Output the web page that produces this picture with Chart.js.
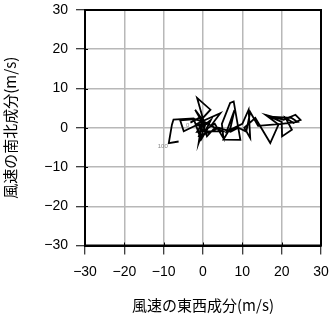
<!DOCTYPE html>
<html><head><meta charset="utf-8">
<script src="https://cdn.jsdelivr.net/npm/chart.js@4"></script>
<style>html,body{margin:0;padding:0;background:#fff}#wrap{width:331px;height:318px}</style>
</head><body><div id="wrap"><canvas id="c" width="331" height="318"></canvas></div>
<script>
const uWind = [-3.2,-1,1,-0.5,2,0.5,-1.5,-0.3,-1.1,0.5,-1.5,1.9,-0.5,-2,0.2,3,1,-0.3,4.4,2,5,0,3,5.2,4.8,6.9,7.8,9.5,5.2,7,8,6,10,11.6,12,10.5,13.3,17.1,19.2,15.9,20.5,23.5,24.8,23,21,22.6,20.1,20,17,22.5,24,20,14,12,11,9,7,4,2,-1,0,-2,-4.9,-5.8,-2,0,-1.5,1,-0.5,-2.4,-7.5,-7.9,-8.7,-6.2];
const vWind = [1.3,2.5,1,0,2,-1,1,1.6,-3.9,0.5,7.6,4.6,2,4.6,1.6,0,-2.2,1.6,3.7,0.5,-0.9,-0.9,1,-2.7,1,6.3,6.7,-3.1,-3,0,4.5,-1,1,4.6,-2.6,0,2.5,-3.9,0.8,3.3,2,3.3,2,1.2,2.5,-0.5,-2.2,1.5,2.8,2.5,1.5,1,0.5,4,-1,0,-1,0,-1,-2,1,0.5,-0.9,1.9,2.2,1.5,-1,-0.5,-3,2.4,2.1,0.8,-3.9,-3.5];
const tickValues = [-30,-20,-10,0,10,20,30];
const xTitle = '風速の東西成分(m/s)';
const yTitle = '風速の南北成分(m/s)';
const pointLabels = [{index:0, text:'0'}, {index:uWind.length-2, text:'100'}];

const points = uWind.map((u,i)=>({x:u,y:vWind[i]}));
const fmt = v => String(v).replace('-', '\u2212');

const framePlugin = {
  id:'frame',
  afterDatasetsDraw(chart){
    const {ctx, chartArea:a, scales} = chart;
    ctx.save();
    ctx.strokeStyle='#000'; ctx.lineWidth=1;
    tickValues.forEach(t=>{
      const x = Math.round(scales.x.getPixelForValue(t))+0.5;
      ctx.beginPath(); ctx.moveTo(x,a.bottom); ctx.lineTo(x,a.bottom-3); ctx.stroke();
      const y = Math.round(scales.y.getPixelForValue(t))+0.5;
      ctx.beginPath(); ctx.moveTo(a.left,y); ctx.lineTo(a.left+3,y); ctx.stroke();
    });
    ctx.lineWidth=2;
    ctx.strokeRect(a.left, a.top, a.right-a.left, a.bottom-a.top);
    ctx.fillStyle='#888';
    ctx.font='6px "Liberation Sans", Arial, sans-serif';
    ctx.textBaseline='middle';
    ctx.textAlign='right';
    pointLabels.forEach(l=>{
      const p = points[l.index];
      ctx.fillText(l.text, scales.x.getPixelForValue(p.x)-1, scales.y.getPixelForValue(p.y)+3);
    });
    ctx.restore();
  }
};

const tickFont = {family:'"Liberation Sans", Arial, sans-serif', size:14};
const titleFont = {family:'"Noto Sans CJK JP", sans-serif', size:15};

new Chart(document.getElementById('c'), {
  type:'scatter',
  data:{datasets:[{data:points, showLine:true, borderColor:'#000', borderWidth:1.8, pointRadius:0, fill:false, tension:0}]},
  options:{
    responsive:false, animation:false,
    layout:{padding:{top:10,right:10,left:0,bottom:0}},
    plugins:{legend:{display:false}, tooltip:{enabled:false}},
    scales:{
      x:{type:'linear', min:-30, max:30,
        afterBuildTicks(s){ s.ticks = tickValues.map(v=>({value:v})); },
        afterFit(s){ s.height = 72.5; s.paddingLeft = 0; s.paddingRight = 0; },
        border:{display:true, color:'#000', width:2},
        grid:{color:'#b8b8b8', lineWidth:1.5, tickColor:'#000', tickLength:9, tickWidth:1},
        ticks:{color:'#000', font:tickFont, padding:9, maxRotation:0, callback:v=>fmt(v)},
        title:{display:true, text:xTitle, color:'#000', font:titleFont, padding:{top:0,bottom:4}}
      },
      y:{type:'linear', min:-30, max:30,
        afterBuildTicks(s){ s.ticks = tickValues.map(v=>({value:v})); },
        afterFit(s){ s.width = 85; s.paddingTop = 0; s.paddingBottom = 0; },
        border:{display:true, color:'#000', width:2},
        grid:{color:'#b8b8b8', lineWidth:1.5, tickColor:'#000', tickLength:9, tickWidth:1},
        ticks:{color:'#000', font:tickFont, padding:8, callback:v=>fmt(v)},
        title:{display:true, text:yTitle, color:'#000', font:titleFont, padding:{top:1,bottom:0}}
      }
    }
  },
  plugins:[framePlugin]
});
</script></body></html>
